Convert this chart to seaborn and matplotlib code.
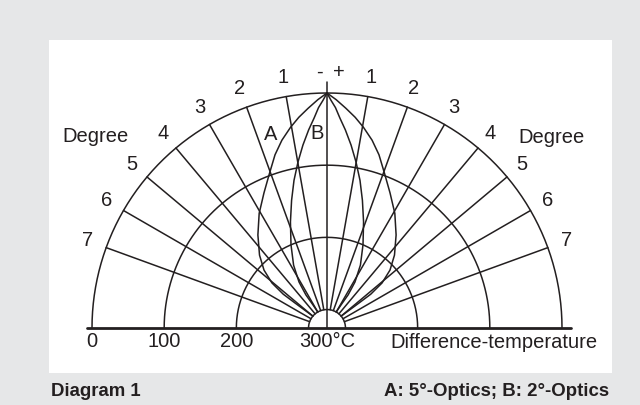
import numpy as np
import matplotlib
matplotlib.use('Agg')
import matplotlib.pyplot as plt
import seaborn as sns
from matplotlib.patches import Rectangle

# rings of the diagram (difference temperature, degC)
ring_temps = [0, 100, 200, 300]
ring_labels = ['0', '100', '200']

# angle rays and their degree labels
ray_angles = [10, 20, 30, 40, 50, 60, 70]
ray_labels = ['1', '2', '3', '4', '5', '6', '7']

# lobe A: 5 deg optics (angle from axis, temperature), one half
lobe_a_angle = [0, 2.3, 4.9, 7.6, 10.3, 13.5, 16.7, 20.4, 25, 30.6, 36.6,
                42.8, 47.4, 50.7, 52.3, 52, 50]
lobe_a_temp = [0, 9, 20, 31, 43, 58, 75, 97, 119, 141, 165,
               188, 207, 227, 249, 269, 300]

# lobe B: 2 deg optics
lobe_b_angle = [0, 1.0, 2.2, 3.5, 5.3, 7.5, 9.9, 12.6, 15.5, 19.0, 23.4,
                28.0, 31.3, 32.5, 31.3, 30]
lobe_b_temp = [0, 10, 20, 34, 50, 70, 92, 116, 142, 170, 200,
               227, 251, 271, 288, 300]

sns.set_theme(style='white')
plt.rcParams['font.family'] = ['Liberation Sans', 'DejaVu Sans']

ink = '#231f20'
hole = 25.6

fig = plt.figure(figsize=(6.4, 4.05), dpi=100, facecolor='#e6e7e8')
fig.add_artist(Rectangle((49 / 640, 1 - 373 / 405), 563 / 640, 333 / 405,
                         transform=fig.transFigure, facecolor='white',
                         edgecolor='none', zorder=0))

ax = fig.add_axes([92 / 640, 1 - 563 / 405, 470 / 640, 470 / 405], projection='polar')
ax.set_theta_zero_location('N')
ax.set_theta_direction(-1)

lw = 1.1
half = np.deg2rad(np.linspace(-90, 90, 361))

# rings
for t in ring_temps:
    ax.plot(half, np.full(half.size, t), color=ink, lw=lw, clip_on=False)

# rays
for a in ray_angles:
    for s in (-1, 1):
        ax.plot([np.deg2rad(s * a)] * 2, [300, 0], color=ink, lw=lw, clip_on=False)

# centre line and baseline
ax.plot([0, 0], [300 + hole, -15], color=ink, lw=lw, clip_on=False)
ax.plot([-np.pi / 2, np.pi / 2], [-7, -12], color=ink, lw=2.0, clip_on=False)

# lobes, mirrored about the axis
for ang, temp in [(lobe_a_angle, lobe_a_temp), (lobe_b_angle, lobe_b_temp)]:
    th = np.deg2rad(np.concatenate([-np.array(ang)[::-1], np.array(ang)[1:]]))
    tt = np.concatenate([np.array(temp)[::-1], np.array(temp)[1:]])
    sns.lineplot(x=th, y=tt, sort=False, estimator=None, color=ink, lw=lw,
                 ax=ax, legend=False, clip_on=False)

ax.set_ylim(300, 0)
ax.set_rorigin(300 + hole)
ax.set_axis_off()

fs = 14.5
for a, lab in zip(ray_angles, ray_labels):
    for s in (-1, 1):
        ax.text(np.deg2rad(s * a), -27, lab, ha='center', va='center',
                fontsize=fs, color=ink, clip_on=False)

ax.annotate('-', xy=(0, -27), xytext=(-3, 1), textcoords='offset points',
            ha='right', va='center', fontsize=fs, color=ink, annotation_clip=False)
ax.annotate('+', xy=(0, -27), xytext=(4, 1), textcoords='offset points',
            ha='left', va='center', fontsize=fs, color=ink, annotation_clip=False)

ax.text(np.deg2rad(-16.2), 46.5, 'A', ha='center', va='center', fontsize=fs, color=ink)
ax.text(np.deg2rad(-3), 56, 'B', ha='center', va='center', fontsize=fs, color=ink)

for t, lab in zip(ring_temps, ring_labels):
    ax.annotate(lab, xy=(-np.pi / 2, t), xytext=(0, -10), textcoords='offset points',
                ha='center', va='center', fontsize=fs, color=ink, annotation_clip=False)
ax.annotate('300°C', xy=(0, 300 + hole), xytext=(0, -10), textcoords='offset points',
            ha='center', va='center', fontsize=fs, color=ink, annotation_clip=False)

fig.text(390 / 640, 1 - 342 / 405, 'Difference-temperature', ha='left', va='center',
         fontsize=fs, color=ink)
fig.text(96 / 640, 1 - 136 / 405, 'Degree', ha='center', va='center', fontsize=fs, color=ink)
fig.text(551 / 640, 1 - 137 / 405, 'Degree', ha='center', va='center', fontsize=fs, color=ink)

fig.text(51 / 640, 1 - 392 / 405, 'Diagram 1', ha='left', va='center',
         fontsize=13.4, fontweight='bold', color=ink)
fig.text(609 / 640, 1 - 392 / 405, 'A: 5°-Optics; B: 2°-Optics', ha='right', va='center',
         fontsize=13.4, fontweight='bold', color=ink)

fig.savefig('out.png', dpi=100, facecolor=fig.get_facecolor())
